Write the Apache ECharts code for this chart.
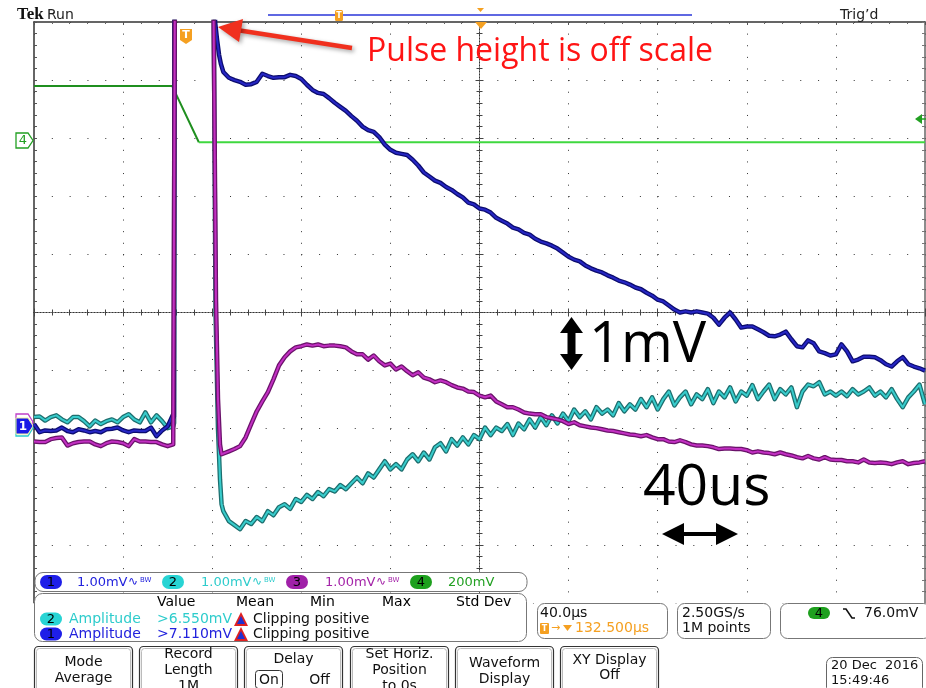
<!DOCTYPE html>
<html><head><meta charset="utf-8">
<script src="https://cdn.jsdelivr.net/npm/echarts@6/dist/echarts.min.js"></script>
<style>html,body{margin:0;padding:0;background:#fff}#c{width:926px;height:688px}</style>
</head><body><div id="c"></div><script>
// time in µs (40 µs/div), voltage in divisions (1 mV/div for CH1-3)
const tPre = [0,2.5,5,7.5,10,12.5,15,17.5,20,22.5,25,27.5,30,32.5,35,37.5,40,42.5,45,47.5,50,52.5,55,57.5,60,62.5];
const ch1Pre = [-1.92,-2.06,-2.03,-2.04,-2.03,-1.98,-2.04,-2.06,-2.01,-2.03,-2.06,-2.04,-2.06,-2.01,-2.00,-1.98,-2.03,-2.06,-2.03,-2.04,-2.04,-1.98,-2.13,-2.03,-1.96,-1.75];
const ch2Pre = [-1.80,-1.79,-1.86,-1.80,-1.77,-1.84,-1.89,-1.80,-1.80,-1.87,-1.96,-1.86,-1.92,-1.87,-1.84,-1.89,-1.80,-1.75,-1.84,-1.89,-1.72,-1.89,-1.77,-1.87,-1.99,-1.96];
const ch3Pre = [-2.22,-2.23,-2.23,-2.18,-2.16,-2.15,-2.29,-2.25,-2.23,-2.22,-2.22,-2.27,-2.30,-2.25,-2.22,-2.23,-2.25,-2.30,-2.18,-2.22,-2.22,-2.23,-2.23,-2.27,-2.30,-2.27];
const ch1Edge = [[62.8,-1.8],[63.1,7],[80.6,7],[81.3,5.0],[82.2,4.69],[83.1,4.43],[83.9,4.28]];
const ch2Edge = [[62.9,-1.9],[63.2,7],[80.4,7],[81.5,0],[82.6,-2.0],[83.5,-2.87],[84.2,-3.3]];
const ch3Edge = [[63.0,-2.25],[63.4,7],[80.2,7],[81.7,0.22],[82.6,-1.49],[83.5,-2.27],[84.2,-2.44]];
const tPost = [85,87.5,90,92.5,95,97.5,100,102.5,105,107.5,110,112.5,115,117.5,120,122.5,125,127.5,130,132.5,
 135,137.5,140,142.5,145,147.5,150,152.5,155,157.5,160,162.5,165,167.5,170,172.5,175,177.5,180,182.5,
 185,187.5,190,192.5,195,197.5,200,202.5,205,207.5,210,212.5,215,217.5,220,222.5,225,227.5,230,232.5,
 235,237.5,240,242.5,245,247.5,250,252.5,255,257.5,260,262.5,265,267.5,270,272.5,275,277.5,280,282.5,
 285,287.5,290,292.5,295,297.5,300,302.5,305,307.5,310,312.5,315,317.5,320,322.5,325,327.5,330,332.5,
 335,337.5,340,342.5,345,347.5,350,352.5,355,357.5,360,362.5,365,367.5,370,372.5,375,377.5,380,382.5,
 385,387.5,390,392.5,395,397.5,400];
const ch1Post = [4.14,4.04,4.00,3.97,3.92,3.93,3.97,4.11,4.07,4.04,4.05,4.05,4.09,4.07,4.02,3.92,3.83,3.78,3.76,3.69,
 3.61,3.54,3.47,3.38,3.30,3.20,3.14,3.11,3.02,2.89,2.80,2.75,2.73,2.71,2.63,2.53,2.41,2.34,2.27,2.23,
 2.16,2.11,2.04,1.98,1.89,1.86,1.79,1.77,1.72,1.63,1.58,1.53,1.46,1.43,1.37,1.34,1.27,1.22,1.19,1.15,
 1.10,1.03,0.96,0.91,0.88,0.81,0.76,0.72,0.69,0.64,0.60,0.55,0.52,0.48,0.43,0.40,0.34,0.29,0.22,0.19,
 0.12,0.05,0,0.02,0,0.02,0,-0.02,-0.09,-0.21,-0.09,0,-0.12,-0.26,-0.24,-0.24,-0.29,-0.34,-0.40,-0.41,
 -0.38,-0.33,-0.46,-0.58,-0.60,-0.48,-0.53,-0.67,-0.70,-0.74,-0.72,-0.55,-0.67,-0.84,-0.81,-0.76,-0.76,-0.77,-0.82,-0.89,
 -0.93,-0.84,-0.77,-0.89,-0.93,-0.96,-1.00];
const ch2Post = [-3.42,-3.59,-3.66,-3.73,-3.59,-3.64,-3.52,-3.59,-3.42,-3.49,-3.35,-3.30,-3.38,-3.21,-3.26,-3.14,-3.21,-3.09,-3.16,-3.04,
 -3.08,-2.97,-3.04,-2.94,-2.84,-2.94,-2.77,-2.84,-2.70,-2.56,-2.70,-2.61,-2.70,-2.53,-2.44,-2.56,-2.41,-2.53,-2.32,-2.25,
 -2.39,-2.18,-2.29,-2.15,-2.27,-2.11,-2.18,-1.98,-2.11,-1.98,-2.04,-1.92,-2.11,-1.91,-2.01,-1.84,-1.98,-1.80,-1.94,-1.77,
 -1.91,-1.74,-1.87,-1.67,-1.80,-1.70,-1.84,-1.63,-1.74,-1.67,-1.77,-1.56,-1.70,-1.58,-1.67,-1.49,-1.63,-1.46,-1.67,-1.49,
 -1.36,-1.60,-1.46,-1.36,-1.58,-1.41,-1.49,-1.32,-1.56,-1.36,-1.46,-1.29,-1.53,-1.36,-1.43,-1.25,-1.49,-1.36,-1.24,-1.49,
 -1.32,-1.41,-1.29,-1.63,-1.36,-1.24,-1.27,-1.20,-1.41,-1.36,-1.43,-1.36,-1.44,-1.32,-1.41,-1.36,-1.29,-1.43,-1.36,-1.46,
 -1.32,-1.49,-1.63,-1.46,-1.36,-1.24,-1.58];
const ch3Post = [-2.46,-2.39,-2.35,-2.30,-2.15,-1.92,-1.70,-1.53,-1.37,-1.15,-0.91,-0.77,-0.67,-0.60,-0.58,-0.55,-0.57,-0.55,-0.58,-0.57,
 -0.57,-0.58,-0.60,-0.67,-0.72,-0.72,-0.81,-0.74,-0.84,-0.91,-0.88,-0.98,-0.93,-1.01,-1.08,-1.03,-1.12,-1.15,-1.20,-1.17,
 -1.20,-1.25,-1.29,-1.31,-1.36,-1.37,-1.43,-1.46,-1.43,-1.53,-1.58,-1.63,-1.63,-1.67,-1.72,-1.74,-1.75,-1.75,-1.80,-1.82,
 -1.84,-1.87,-1.92,-1.89,-1.94,-1.96,-1.98,-1.99,-2.01,-2.03,-2.04,-2.06,-2.08,-2.10,-2.11,-2.13,-2.11,-2.15,-2.18,-2.18,
 -2.22,-2.23,-2.20,-2.23,-2.27,-2.29,-2.29,-2.30,-2.32,-2.35,-2.34,-2.34,-2.35,-2.35,-2.37,-2.41,-2.39,-2.41,-2.42,-2.44,
 -2.41,-2.44,-2.46,-2.49,-2.51,-2.47,-2.51,-2.53,-2.49,-2.53,-2.54,-2.54,-2.56,-2.56,-2.58,-2.53,-2.58,-2.59,-2.58,-2.59,
 -2.61,-2.58,-2.56,-2.61,-2.59,-2.58,-2.56];
const ch4Time = [0, 62, 74, 400];
const ch4Val = [3.9, 3.9, 2.93, 2.93];

function trace(pre, edge, post) {
  const out = [];
  tPre.forEach((t, i) => out.push([t, pre[i]]));
  edge.forEach(p => out.push(p));
  tPost.forEach((t, i) => out.push([t, post[i]]));
  return out;
}
const ch4Pts = ch4Time.map((t, i) => [t, ch4Val[i]]);

function line(data, color, width) {
  return {type:'line', data, xAxisIndex:0, yAxisIndex:0, symbol:'none', showSymbol:false, silent:true,
    clip:true, lineStyle:{color, width, join:'round'}, animation:false};
}
const series = [
  line(ch4Pts.slice(0,3), '#1f8f1f', 2),
  line(ch4Pts.slice(2), '#3fd83f', 2),
  line(trace(ch2Pre, ch2Edge, ch2Post), '#1d6e6e', 4.5),
  line(trace(ch2Pre, ch2Edge, ch2Post), '#38cccc', 2),
  line(trace(ch1Pre, ch1Edge, ch1Post), '#0c0c6e', 4.5),
  line(trace(ch1Pre, ch1Edge, ch1Post), '#2626c4', 2),
  line(trace(ch3Pre, ch3Edge, ch3Post), '#6a126a', 4.5),
  line(trace(ch3Pre, ch3Edge, ch3Post), '#c22fc2', 2)
];

const noLab = {show:false};
const xAxes = [
  {type:'value', min:0, max:400, interval:40, axisLine:{show:false}, axisTick:{show:false}, axisLabel:noLab,
   splitLine:{show:true, lineStyle:{color:'#333', width:1, type:[1,10.62]}}},
  {type:'value', min:0, max:400, interval:40, position:'top', axisLine:{show:true, onZero:false, lineStyle:{color:'#333', width:1.5}},
   axisTick:{show:true, inside:true, length:3, lineStyle:{color:'#555'}}, minorTick:{show:true, splitNumber:5, length:2, lineStyle:{color:'#666'}},
   axisLabel:noLab, splitLine:{show:false}},
  {type:'value', min:0, max:400, interval:40, position:'bottom', axisLine:{show:true, onZero:true, onZeroAxisIndex:0, lineStyle:{color:'#333', width:1, type:[1,2]}},
   axisTick:{show:true, length:4, lineStyle:{color:'#444'}}, minorTick:{show:true, splitNumber:5, length:3, lineStyle:{color:'#444'}},
   axisLabel:noLab, splitLine:{show:false}},
  {type:'value', min:0, max:400, interval:40, position:'top', axisLine:{show:true, onZero:true, onZeroAxisIndex:0, lineStyle:{color:'#333', width:1, type:[1,2]}},
   axisTick:{show:true, length:4, lineStyle:{color:'#444'}}, minorTick:{show:true, splitNumber:5, length:3, lineStyle:{color:'#444'}},
   axisLabel:noLab, splitLine:{show:false}},
  {type:'value', min:-200, max:200, show:false}
];
const yAxes = [
  {type:'value', min:-5, max:5, interval:1, axisLine:{show:false}, axisTick:{show:false}, axisLabel:noLab,
   splitLine:{show:true, lineStyle:{color:'#333', width:1, type:[1,16.82]}}},
  {type:'value', min:-5, max:5, interval:1, position:'left', axisLine:{show:true, onZero:false, lineStyle:{color:'#333', width:1.5}},
   axisTick:{show:true, inside:true, length:3, lineStyle:{color:'#555'}}, minorTick:{show:true, splitNumber:5, length:3, lineStyle:{color:'#555'}},
   axisLabel:noLab, splitLine:{show:false}},
  {type:'value', min:-5, max:5, interval:1, position:'right', axisLine:{show:true, onZero:false, lineStyle:{color:'#666', width:1.5}},
   axisTick:{show:true, inside:true, length:3, lineStyle:{color:'#777'}}, minorTick:{show:true, splitNumber:5, length:3, lineStyle:{color:'#777'}},
   axisLabel:noLab, splitLine:{show:false}},
  {type:'value', min:-5, max:5, interval:1, position:'left', axisLine:{show:true, onZero:true, onZeroAxisIndex:4, lineStyle:{color:'#333', width:1, type:[1,2]}},
   axisTick:{show:true, length:4, lineStyle:{color:'#444'}}, minorTick:{show:true, splitNumber:5, length:3, lineStyle:{color:'#444'}},
   axisLabel:noLab, splitLine:{show:false}},
  {type:'value', min:-5, max:5, interval:1, position:'right', axisLine:{show:true, onZero:true, onZeroAxisIndex:4, lineStyle:{color:'#333', width:1, type:[1,2]}},
   axisTick:{show:true, length:4, lineStyle:{color:'#444'}}, minorTick:{show:true, splitNumber:5, length:3, lineStyle:{color:'#444'}},
   axisLabel:noLab, splitLine:{show:false}}
];

// ---------- annotation / UI graphics ----------
const UI = '"DejaVu Sans", Verdana, sans-serif';
const ORANGE = '#f5a021', BLUE = '#2222dd', CYAN = '#2ecccc', MAG = '#a424a8', GREEN = '#22a022';
const G = [];
function T(x, y, text, font, fill, align, extra) {
  G.push(Object.assign({type:'text', x, y, z:120, silent:true,
    style:{text, font, fill: fill || '#000', textAlign: align || 'left', textVerticalAlign:'middle'}}, extra || {}));
}
function R(x, y, w, h, r, fill, stroke, lw, z) {
  G.push({type:'rect', z: z || 110, silent:true, shape:{x, y, width:w, height:h, r: r || 0},
    style:{fill: fill || 'none', stroke: stroke || null, lineWidth: lw || 1}});
}
function P(points, fill, stroke, lw, z, extraStyle) {
  G.push({type:'polygon', z: z || 115, silent:true, shape:{points},
    style:Object.assign({fill: fill || 'none', stroke: stroke || null, lineWidth: lw || 1}, extraStyle || {})});
}
function L(x1, y1, x2, y2, stroke, lw, z, extraStyle) {
  G.push({type:'line', z: z || 115, silent:true, shape:{x1, y1, x2, y2},
    style:Object.assign({stroke, lineWidth: lw || 1}, extraStyle || {})});
}

// header
T(17, 15, 'Tek', 'bold 17px "Liberation Serif"', '#111');
T(47, 15, 'Run', '14px ' + UI, '#222');
T(840, 15, 'Trig\u2019d', '14px ' + UI, '#222');
L(268, 15, 692, 15, '#2a36d8', 1.5);
R(335, 10, 8, 11, 1.5, ORANGE, null, 1, 116);
T(339, 15.5, 'T', 'bold 8px ' + UI, '#fff', 'center');
P([[477,8],[484,8],[480.5,12]], ORANGE);
P([[475,22],[487,22],[481,29]], ORANGE);
// trigger position marker
P([[180,29],[192,29],[192,40],[186,44],[180,40]], ORANGE);
T(186, 35.5, 'T', 'bold 11px ' + UI, '#fff', 'center');
// channel markers left
P([[16,133],[28,133],[33,140.5],[28,148],[16,148]], '#fff', GREEN, 1.3);
T(23, 141, '4', '13px ' + UI, GREEN, 'center');
P([[16,414],[28,414],[33,422],[28,430],[16,430]], '#fff', '#c040c8', 1.3, 114);
P([[16,420],[28,420],[33,428],[28,436],[16,436]], '#fff', CYAN, 1.3, 114);
P([[16,418],[28,418],[33,426],[28,434],[16,434]], '#1a1ae6', '#f0f0a0', 1, 116);
T(23, 426.5, '1', 'bold 12px ' + UI, '#fff', 'center');
// trigger level marker right
P([[915,119],[922,114],[922,124]], GREEN);
L(921, 119, 926, 119, GREEN, 1.5);

// red annotation
L(240, 30.5, 352, 48, '#f0301e', 4.5, 118, {shadowBlur:4, shadowColor:'rgba(0,0,0,0.35)', shadowOffsetX:2, shadowOffsetY:2});
P([[218,27],[243,19],[239,42]], '#f0301e', null, 1, 118, {shadowBlur:4, shadowColor:'rgba(0,0,0,0.35)', shadowOffsetX:2, shadowOffsetY:2});
T(367, 52, 'Pulse height is off scale', '32px "Open Sans"', '#ff1414');

// scale annotations
P([[571.5,317],[583,333],[575.5,333],[575.5,354],[583,354],[571.5,370],[560,354],[567.5,354],[567.5,333],[560,333]], '#000');
T(589, 346, '1mV', '56px "Open Sans"', '#000');
T(643, 489, '40us', '57px "Open Sans"', '#000');
P([[662,534],[684,523],[684,532],[716,532],[716,523],[738,534],[716,545],[716,536],[684,536],[684,545]], '#000');

// bottom white area below graticule
R(0, 603.5, 926, 85, 0, '#fff', null, 1, 105);
// channel readout box
R(35, 572.5, 492, 19, 8, '#fff', '#777', 1);
function pill(x, y, w, h, fill, label) {
  R(x, y, w, h, h / 2, fill, null, 1, 112);
  T(x + w / 2, y + h / 2 + 0.5, label, '13px ' + UI, '#000', 'center');
}
function bw(x, y, color) {
  T(x, y, '\u223F', '12px ' + UI, color);
  T(x + 12, y - 2, 'BW', '7px ' + UI, color);
}
pill(40, 575, 22, 14, '#1e1ee8', '1'); T(77, 582.5, '1.00mV', '13px ' + UI, BLUE); bw(128, 582, BLUE);
pill(162, 575, 22, 14, '#28d4d4', '2'); T(201, 582.5, '1.00mV', '13px ' + UI, CYAN); bw(252, 582, CYAN);
pill(286, 575, 22, 14, '#a020a8', '3'); T(325, 582.5, '1.00mV', '13px ' + UI, MAG); bw(376, 582, MAG);
pill(410, 575, 22, 14, '#1ea01e', '4'); T(448, 582.5, '200mV', '13px ' + UI, GREEN);

// measurement box
R(34.5, 593.5, 492, 48, 8, '#fff', '#777', 1);
T(157, 602, 'Value', '14px ' + UI); T(236, 602, 'Mean', '14px ' + UI); T(310, 602, 'Min', '14px ' + UI);
T(382, 602, 'Max', '14px ' + UI); T(456, 602, 'Std Dev', '14px ' + UI);
function measRow(y, pfill, label, color, val) {
  pill(40, y - 6.5, 22, 13, pfill, label);
  T(69, y, 'Amplitude', '14px ' + UI, color);
  T(157, y, val, '14px ' + UI, color);
  P([[234,y+7],[241,y-7],[248,y+7]], '#e02020');
  P([[237,y+5],[241,y-3],[245,y+5]], '#2030d0');
  T(253, y, 'Clipping positive', '14px ' + UI, '#111');
}
measRow(619, '#28d4d4', '2', CYAN, '>6.550mV');
measRow(634, '#1e1ee8', '1', BLUE, '>7.110mV');

// horizontal / acquisition / trigger boxes
R(537.5, 603.5, 130, 35, 7, '#fff', '#777', 1);
T(540, 613.5, '40.0\u00B5s', '14px ' + UI, '#111');
R(540, 623, 9, 11, 1, ORANGE, null, 1, 112); T(544.5, 628.5, 'T', 'bold 8px ' + UI, '#fff', 'center');
T(551, 628.5, '\u2192', '11px ' + UI, ORANGE);
P([[563,625],[572,625],[567.5,631]], ORANGE);
T(575, 628.5, '132.500\u00B5s', '14px ' + UI, ORANGE);
R(677.5, 603.5, 93, 35, 7, '#fff', '#777', 1);
T(682, 613.5, '2.50GS/s', '14px ' + UI, '#111');
T(682, 628.5, '1M points', '14px ' + UI, '#111');
R(780.5, 603.5, 150, 35, 7, '#fff', '#777', 1);
pill(808, 607, 22, 12, '#1ea01e', '4');
G.push({type:'polyline', z:116, silent:true, shape:{points:[[843,609],[846,609],[852,618],[855,618]]}, style:{stroke:'#111', lineWidth:1.6, fill:'none'}});
T(864, 613.5, '76.0mV', '14px ' + UI, '#111');

// softkeys
function key(x, lines, ys) {
  R(x + 0.5, 646.5, 98, 50, 4, '#fff', '#333', 1.2);
  R(x + 2.5, 648.5, 94, 46, 3, 'none', '#bbb', 1, 111);
  lines.forEach((s, i) => { if (s) T(x + 49.5, ys[i], s, '14px ' + UI, '#111', 'center'); });
}
key(34, ['Mode', 'Average'], [662, 678]);
key(139, ['Record', 'Length', '1M'], [654, 670, 686]);
key(244, ['Delay'], [659]);
R(255.5, 670.5, 27, 18, 3, '#fff', '#333', 1, 112);
T(269, 680, 'On', '14px ' + UI, '#111', 'center');
T(319.5, 680, 'Off', '14px ' + UI, '#111', 'center');
key(350, ['Set Horiz.', 'Position', 'to 0s'], [654, 670, 686]);
key(455, ['Waveform', 'Display'], [663, 679]);
key(560, ['XY Display', 'Off'], [660, 675]);
R(826.5, 657.5, 96, 36, 6, '#fff', '#666', 1);
T(831, 666, '20 Dec  2016', '13px ' + UI, '#111');
T(831, 681, '15:49:46', '13px ' + UI, '#111');

const chart = echarts.init(document.getElementById('c'), null, {renderer:'canvas'});
chart.setOption({
  animation:false,
  backgroundColor:'#fff',
  grid:{left:34, top:22, width:891, height:581, show:false},
  xAxis:xAxes,
  yAxis:yAxes,
  series,
  graphic:{elements:G}
});
</script></body></html>
